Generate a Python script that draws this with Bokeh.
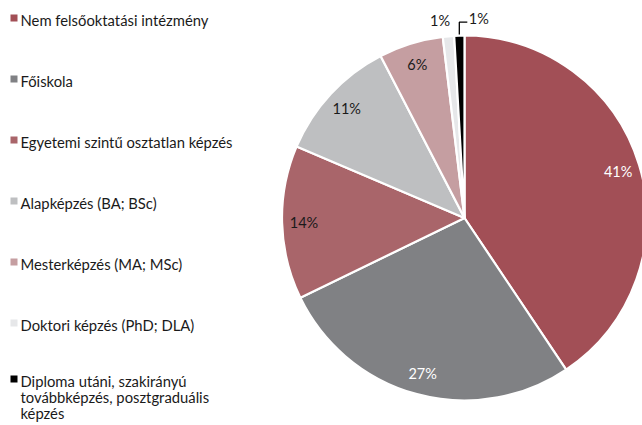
import math
from bokeh.plotting import figure
from bokeh.models import Range1d, ColumnDataSource
from bokeh.core.properties import value
from bokeh.embed import file_html
from bokeh.resources import INLINE

categories = [
    "Nem felsőoktatási intézmény",
    "Főiskola",
    "Egyetemi szintű osztatlan képzés",
    "Alapképzés (BA; BSc)",
    "Mesterképzés (MA; MSc)",
    "Doktori képzés (PhD; DLA)",
    "Diploma utáni, szakirányú\ntovábbképzés, posztgraduális\nképzés",
]
shares = [40.6, 27.2, 13.6, 11.0, 5.7, 1.0, 0.9]
colors = ["#A24F56", "#808184", "#A9656A", "#BEBFC1", "#C59EA1", "#E6E7E9", "#000000"]
label_colors = ["#FFFFFF", "#FFFFFF", "#1A1A1A", "#1A1A1A", "#1A1A1A", "#1A1A1A", "#1A1A1A"]

FONT = "Lato"
W, H = 642, 425
# data coords: x = screen x, y = 425 - screen y
def sy(y):
    return H - y

p = figure(width=W, height=H, output_backend="svg", toolbar_location=None,
           x_range=Range1d(0, W), y_range=Range1d(0, H),
           min_border=0, outline_line_color=None)
p.axis.visible = False
p.grid.visible = False
p.background_fill_color = "white"
p.border_fill_color = "white"

cx, cy, R = 464.0, sy(217.5), 182.5
total = sum(shares)
starts, ends, mids = [], [], []
c = 0.0
for v in shares:
    a0 = math.pi / 2 - 2 * math.pi * c / total
    c += v
    a1 = math.pi / 2 - 2 * math.pi * c / total
    starts.append(a0)
    ends.append(a1)
    mids.append((a0 + a1) / 2)

src = ColumnDataSource(dict(start=starts, end=ends, color=colors))
p.wedge(x=cx, y=cy, radius=R, start_angle="start", end_angle="end", direction="clock",
        fill_color="color", line_color="white", line_width=2.2, source=src)

labels = [f"{round(v)}%" for v in shares]
# inside labels
in_x, in_y, in_t, in_c = [], [], [], []
for i, v in enumerate(shares):
    if v >= 3:
        r = R * 0.88
        in_x.append(cx + r * math.cos(mids[i]))
        in_y.append(cy + r * math.sin(mids[i]))
        in_t.append(labels[i])
        in_c.append(label_colors[i])
p.text(x=in_x, y=in_y, text=in_t, text_color=in_c, text_font=value(FONT),
       text_font_size="14.5px", text_align="center", text_baseline="middle")

# small slices: outside labels
small = [i for i, v in enumerate(shares) if v < 3]
i1, i2 = small[0], small[1]
r = R + 16
p.text(x=[cx + r * math.cos(mids[i1]) + 3], y=[cy + r * math.sin(mids[i1])], text=[labels[i1]],
       text_color=label_colors[i1], text_font=value(FONT), text_font_size="14.5px",
       text_align="right", text_baseline="middle")
ex = cx + (R + 1) * math.cos(mids[i2])
ey = cy + (R + 1) * math.sin(mids[i2])
ly = sy(21.7)
p.line(x=[ex, ex, ex + 8], y=[ey, ly, ly], line_color="black", line_width=1.3)
p.text(x=[ex + 9.5], y=[ly + 4], text=[labels[i2]], text_color=label_colors[i2],
       text_font=value(FONT), text_font_size="14.5px", text_align="left", text_baseline="middle")

# legend
row_y = [17.5 + 61 * i for i in range(6)] + [378.5]
p.rect(x=[13.5] * len(categories), y=[sy(v) for v in row_y], width=7, height=7,
       fill_color=colors, line_color=None)
lx, ly_, lt = [], [], []
for i, name in enumerate(categories):
    for j, line in enumerate(name.split("\n")):
        lx.append(20)
        ly_.append(sy(row_y[i] + 1.5 + 16 * j))
        lt.append(line)
p.text(x=lx, y=ly_, text=lt, text_color="#1A1A1A", text_font=value(FONT),
       text_font_size="14.8px", text_align="left", text_baseline="middle")

open("out.html", "w").write(file_html(p, INLINE))
